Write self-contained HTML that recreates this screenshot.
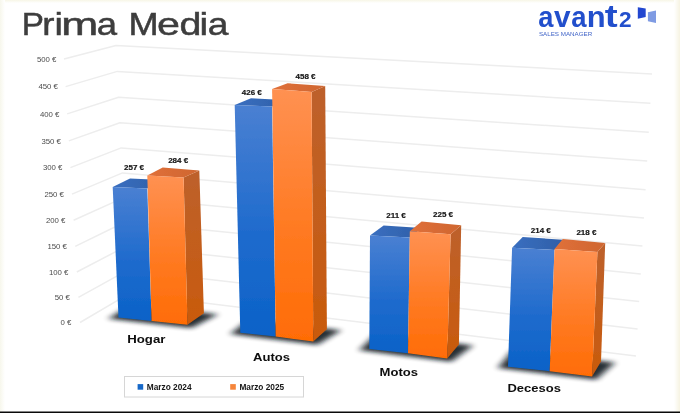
<!DOCTYPE html>
<html><head><meta charset="utf-8"><title>Prima Media</title>
<style>
html,body{margin:0;padding:0;background:#fff;}
body{width:680px;height:413px;overflow:hidden;font-family:"Liberation Sans",sans-serif;}
svg{display:block;}
text{font-family:"Liberation Sans",sans-serif;}
</style></head><body>
<svg width="680" height="413" viewBox="0 0 680 413">
<defs>
<linearGradient id="bf" x1="0" y1="0" x2="0" y2="1"><stop offset="0" stop-color="#4a80d2"/><stop offset="0.55" stop-color="#1f6bcd"/><stop offset="1" stop-color="#0a62c8"/></linearGradient>
<linearGradient id="of" x1="0" y1="0" x2="0" y2="1"><stop offset="0" stop-color="#ff9152"/><stop offset="0.55" stop-color="#ff7a22"/><stop offset="1" stop-color="#ff6c05"/></linearGradient>
<linearGradient id="os" x1="0" y1="0" x2="0" y2="1"><stop offset="0" stop-color="#bd612c"/><stop offset="1" stop-color="#c95a0c"/></linearGradient>
<linearGradient id="bt" x1="0" y1="0" x2="1" y2="0"><stop offset="0" stop-color="#3a6fc0"/><stop offset="1" stop-color="#2f5fa8"/></linearGradient>
<linearGradient id="ot" x1="0" y1="0" x2="1" y2="0"><stop offset="0" stop-color="#e0703a"/><stop offset="1" stop-color="#cf6630"/></linearGradient>
<linearGradient id="edgeL" x1="0" y1="0" x2="1" y2="0"><stop offset="0" stop-color="#f7f7ec"/><stop offset="1" stop-color="#ffffff"/></linearGradient>
<linearGradient id="edgeR" x1="0" y1="0" x2="1" y2="0"><stop offset="0" stop-color="#ffffff"/><stop offset="1" stop-color="#f6f3e2"/></linearGradient>
<linearGradient id="edgeT" x1="0" y1="0" x2="0" y2="1"><stop offset="0" stop-color="#f7f6e6"/><stop offset="1" stop-color="#ffffff"/></linearGradient>
<filter id="soft" x="0" y="0" width="680" height="413" filterUnits="userSpaceOnUse"><feGaussianBlur stdDeviation="0.5"/></filter>
<filter id="sh" x="-30%" y="-60%" width="160%" height="220%"><feGaussianBlur stdDeviation="3.6 1.9"/></filter>
</defs>
<rect x="0" y="0" width="680" height="413" fill="#ffffff"/>
<rect x="0" y="0" width="680" height="3" fill="url(#edgeT)"/>
<rect x="0" y="0" width="5" height="413" fill="url(#edgeL)"/>
<rect x="674" y="0" width="6" height="413" fill="url(#edgeR)"/>

<g filter="url(#soft)">
<g fill="none" stroke="#ededed" stroke-width="1.5" stroke-linejoin="round">
<polyline points="80.0,322.5 129.0,293.7 636.0,356.0"/>
<polyline points="78.4,297.4 127.7,270.1 637.6,328.9"/>
<polyline points="76.8,272.0 126.4,246.2 639.2,301.5"/>
<polyline points="75.2,246.3 125.1,222.0 640.8,273.9"/>
<polyline points="73.6,220.3 123.8,197.6 642.4,246.1"/>
<polyline points="72.0,194.1 122.5,172.9 644.0,218.0"/>
<polyline points="70.4,167.6 121.2,147.9 645.6,189.7"/>
<polyline points="68.8,140.9 119.9,122.7 647.2,161.1"/>
<polyline points="67.2,113.9 118.6,97.2 648.8,132.3"/>
<polyline points="65.6,86.6 117.3,71.4 650.4,103.3"/>
<polyline points="64.0,59.0 116.0,45.4 652.0,74.0"/>
</g>
<g font-size="7.8" fill="#4c4c4c" text-anchor="end">
<text x="71.4" y="325.2">0 €</text>
<text x="69.9" y="300.1">50 €</text>
<text x="68.4" y="274.7">100 €</text>
<text x="66.9" y="249.0">150 €</text>
<text x="65.4" y="223.0">200 €</text>
<text x="63.9" y="196.8">250 €</text>
<text x="62.4" y="170.3">300 €</text>
<text x="60.9" y="143.6">350 €</text>
<text x="59.4" y="116.6">400 €</text>
<text x="57.9" y="89.3">450 €</text>
<text x="56.4" y="61.7">500 €</text>
</g>
<g filter="url(#sh)" fill="#10161e" opacity="0.9">
<polygon points="108.5,318.8 191.5,327.9 217.9,314.2 129.9,305.1"/>
<polygon points="230.3,333.9 317.3,344.7 340.9,330.2 248.9,319.4"/>
<polygon points="359.3,350.2 451.2,361.8 472.9,345.4 376.0,333.8"/>
<polygon points="498.0,368.0 596.1,379.7 615.0,362.5 511.9,350.8"/>
</g>
<polygon points="112.7,186.9 147.3,188.5 163.0,180.1 130.0,178.5" fill="url(#bt)"/>
<polygon points="112.7,186.9 147.3,188.5 151.6,321.0 118.5,317.6" fill="url(#bf)"/>
<polygon points="183.6,177.4 199.3,170.6 203.9,313.2 187.5,324.7" fill="url(#os)"/>
<polygon points="147.3,175.4 183.6,177.4 199.3,170.6 162.7,167.5" fill="url(#ot)"/>
<polygon points="147.3,175.4 183.6,177.4 187.5,324.7 151.6,321.0" fill="url(#of)"/>
<polygon points="234.7,104.9 272.1,106.6 288.0,100.3 251.0,98.3" fill="url(#bt)"/>
<polygon points="234.7,104.9 272.1,106.6 275.7,336.6 240.3,332.7" fill="url(#bf)"/>
<polygon points="311.6,91.9 325.2,86.0 326.9,329.2 313.3,341.5" fill="url(#os)"/>
<polygon points="272.1,89.0 311.6,91.9 325.2,86.0 287.6,83.2" fill="url(#ot)"/>
<polygon points="272.1,89.0 311.6,91.9 313.3,341.5 275.7,336.6" fill="url(#of)"/>
<polygon points="370.0,235.6 409.8,237.6 421.6,228.0 383.6,225.6" fill="url(#bt)"/>
<polygon points="370.0,235.6 409.8,237.6 408.0,353.2 369.3,349.0" fill="url(#bf)"/>
<polygon points="450.6,234.2 461.2,225.2 458.9,344.4 447.2,358.6" fill="url(#os)"/>
<polygon points="409.8,231.2 450.6,234.2 461.2,225.2 421.6,221.6" fill="url(#ot)"/>
<polygon points="409.8,231.2 450.6,234.2 447.2,358.6 408.0,353.2" fill="url(#of)"/>
<polygon points="512.1,247.7 554.5,249.9 563.0,239.7 522.7,237.1" fill="url(#bt)"/>
<polygon points="512.1,247.7 554.5,249.9 549.7,371.2 508.0,366.8" fill="url(#bf)"/>
<polygon points="597.4,252.1 605.2,242.9 601.0,361.5 592.1,376.5" fill="url(#os)"/>
<polygon points="554.5,249.0 597.4,252.1 605.2,242.9 562.8,238.9" fill="url(#ot)"/>
<polygon points="554.5,249.0 597.4,252.1 592.1,376.5 549.7,371.2" fill="url(#of)"/>
<g font-size="8" font-weight="bold" fill="#151515" stroke="#151515" stroke-width="0.2" text-anchor="middle">
<text x="134" y="170">257 €</text>
<text x="178.2" y="162.8">284 €</text>
<text x="251.8" y="95.1">426 €</text>
<text x="305.5" y="79.3">458 €</text>
<text x="396" y="217.5">211 €</text>
<text x="443" y="217.4">225 €</text>
<text x="540.8" y="232.5">214 €</text>
<text x="586.4" y="235.2">218 €</text>
</g>
<g font-size="11.6" font-weight="bold" fill="#0c0c0c">
<text x="127.2" y="342.8" textLength="38.2" lengthAdjust="spacingAndGlyphs">Hogar</text>
<text x="253" y="360.5" textLength="37" lengthAdjust="spacingAndGlyphs">Autos</text>
<text x="379.6" y="376.3" textLength="38.4" lengthAdjust="spacingAndGlyphs">Motos</text>
<text x="507.5" y="392" textLength="53.4" lengthAdjust="spacingAndGlyphs">Decesos</text>
</g>
<rect x="124.5" y="376.5" width="179" height="20.5" fill="#ffffff" stroke="#d6d6d6" stroke-width="1"/>
<rect x="137.6" y="384.1" width="5.6" height="5.6" fill="#1568c8"/>
<rect x="230.2" y="384.1" width="5.6" height="5.6" fill="#f6853a"/>
<g font-size="8.4" font-weight="bold" fill="#161616">
<text x="146.8" y="389.5" textLength="44.8" lengthAdjust="spacingAndGlyphs">Marzo 2024</text>
<text x="239.4" y="389.5" textLength="44.8" lengthAdjust="spacingAndGlyphs">Marzo 2025</text>
</g>
<g fill="#3d3d3d" stroke="#3d3d3d" stroke-width="0.5">
<text transform="translate(21.84,34.5) scale(1.066,1)" font-size="31.2">P</text>
<text transform="translate(42.33,34.5) scale(1.168,1)" font-size="31.2">r</text>
<text transform="translate(54.44,34.5) scale(1.211,1)" font-size="31.2">i</text>
<text transform="translate(61.21,34.5) scale(1.423,1)" font-size="31.2">m</text>
<text transform="translate(96.85,34.5) scale(1.170,1)" font-size="31.2">a</text>
<text transform="translate(128.41,34.5) scale(1.158,1)" font-size="31.2">M</text>
<text transform="translate(157.05,34.5) scale(1.323,1)" font-size="31.2">e</text>
<text transform="translate(179.43,34.5) scale(1.261,1)" font-size="31.2">d</text>
<text transform="translate(199.57,34.5) scale(1.246,1)" font-size="31.2">i</text>
<text transform="translate(207.72,34.5) scale(1.189,1)" font-size="31.2">a</text>
</g>
<g fill="#2450cc" font-weight="bold">
<text transform="translate(538.25,26.7) scale(0.948,1)" font-size="28.8">a</text>
<text transform="translate(553.93,26.7) scale(1.035,1)" font-size="28.8">v</text>
<text transform="translate(571.14,26.7) scale(0.954,1)" font-size="28.8">a</text>
<text transform="translate(586.79,26.7) scale(1.074,1)" font-size="28.8">n</text>
<text transform="translate(604.81,26.8) scale(1.270,1)" font-size="30.5">t</text>
<text transform="translate(619.06,26.7) scale(1.050,1)" font-size="21.6">2</text>
</g>
<text x="538.9" y="35.9" font-size="6" fill="#4165c8" textLength="53.4" lengthAdjust="spacingAndGlyphs">SALES MANAGER</text>
<polygon points="637.8,7.2 645.7,8.5 645.7,17.1 637.8,18.8" fill="#2247d0"/>
<polygon points="647.9,12.3 656,10.6 656,23 647.9,21.2" fill="#7f9be3"/>
</g>
<rect x="0" y="411.5" width="680" height="1.5" fill="#0a0a0a"/>
</svg></body></html>
